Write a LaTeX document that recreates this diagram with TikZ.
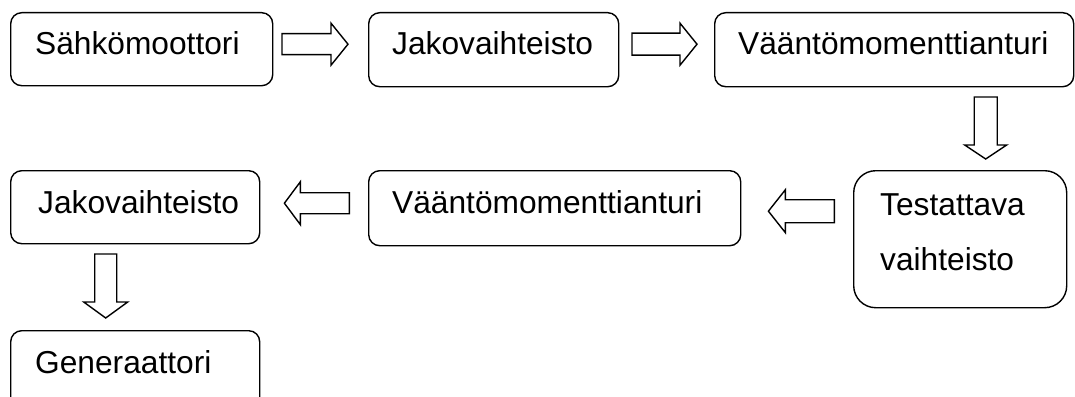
\documentclass[tikz,border=0pt]{standalone}
\usepackage{fontspec}
\setmainfont{Liberation Sans}
\usetikzlibrary{calc}
\begin{document}
\begin{tikzpicture}[x=1pt,y=-1pt,
  boxline/.style={draw=black,line width=1.4pt,rounded corners=11pt,inner sep=0pt,anchor=north west},
  bigbox/.style={boxline,rounded corners=22pt},
  lbl/.style={anchor=base west,inner sep=0pt,font=\fontsize{31.7}{38}\selectfont},
  arrowline/.style={draw=black,line width=1.4pt,line join=miter,fill=white}]
\newcommand\blockarrow[6]{%
  \draw[arrowline,shift={#1},rotate=#2] (0,0) -- (-#4,#6) -- (-#4,#5) -- (-#3,#5)
     -- (-#3,-#5) -- (-#4,-#5) -- (-#4,-#6) -- cycle;}
\useasboundingbox (0,0) rectangle (1075,396);
\clip (0,0) rectangle (1075,396);
% boxes
\node[boxline,minimum width=262pt,minimum height=73pt] (b1) at (10,12) {};
\node[boxline,minimum width=250pt,minimum height=74pt] (b2) at (368,12) {};
\node[boxline,minimum width=359pt,minimum height=74pt] (b3) at (714,12) {};
\node[bigbox,minimum width=213pt,minimum height=137pt] (b4) at (853,170) {};
\node[boxline,minimum width=372pt,minimum height=75pt] (b5) at (368,170) {};
\node[boxline,minimum width=249pt,minimum height=73pt] (b6) at (10,170) {};
\node[boxline,minimum width=249pt,minimum height=100pt] (b7) at (10,330) {};
% labels
\node[lbl] (t1) at (35,55) {Sähkömoottori};
\node[lbl] (t2) at (392,55) {Jakovaihteisto};
\node[lbl] (t3) at (738,55) {Vääntömomenttianturi};
\node[lbl] (t4a) at (880,215) {Testattava};
\node[lbl] (t4b) at (880,270) {vaihteisto};
\node[lbl] (t5) at (392,213) {Vääntömomenttianturi};
\node[lbl] (t6) at (38,213) {Jakovaihteisto};
\node[lbl] (t7) at (35,373) {Generaattori};
% block arrows: tip, angle, length, head length, shaft half, head half
\coordinate (a1) at ($(b2.west)+(-20,-5.5)$);
\coordinate (a2) at ($(b3.west)+(-17,-5.5)$);
\coordinate (a3) at ($(b4.north)+(25.5,-11)$);
\coordinate (a4) at ($(b5.east)+(27,3)$);
\coordinate (a5) at ($(b6.east)+(24,-4)$);
\coordinate (a6) at ($(b7.north)+(-29.5,-12)$);
\blockarrow{(a1)}{0}{66}{17}{10.5}{21}
\blockarrow{(a2)}{0}{65}{17}{11}{21}
\blockarrow{(a3)}{-90}{62}{14}{11.5}{21}
\blockarrow{(a4)}{180}{66}{17}{11.5}{21.5}
\blockarrow{(a5)}{180}{65}{16}{10.5}{21.5}
\blockarrow{(a6)}{-90}{64}{16}{11}{22}
\end{tikzpicture}
\end{document}
